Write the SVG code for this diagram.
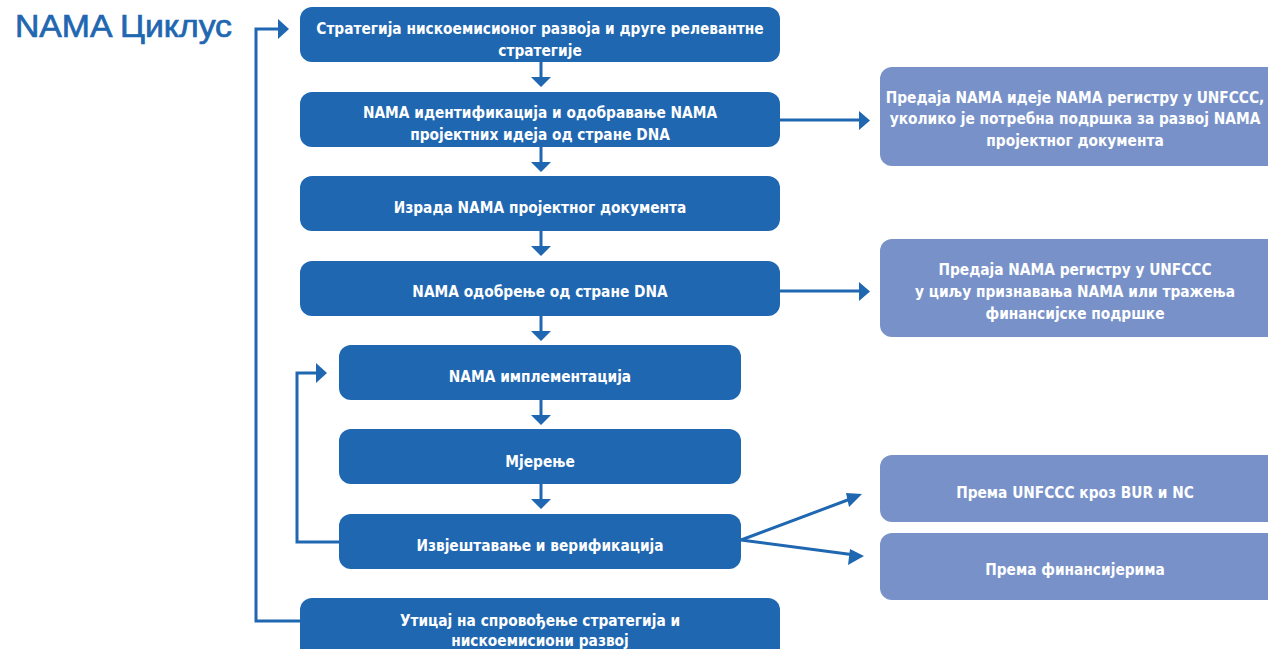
<svg xmlns="http://www.w3.org/2000/svg" width="1268" height="649" viewBox="0 0 1268 649">
<defs>
<style>
.b{fill:#1f67b1}
.l{fill:#7892c9}
.t{font-family:"Liberation Sans Narrow","DejaVu Sans Condensed","Liberation Sans",sans-serif;font-weight:bold;font-size:15.3px;fill:#fff;text-anchor:middle}
.c{stroke:#1f67b1;stroke-width:3;fill:none}
.h{fill:#1f67b1}
</style>
</defs>
<rect width="1268" height="649" fill="#fff"/>
<text x="15" y="37" font-family="Liberation Sans, Arial, sans-serif" font-size="31" textLength="217" lengthAdjust="spacingAndGlyphs" fill="#1f67b1" stroke="#1f67b1" stroke-width="0.7">NAMA Циклус</text>
<g id="connectors">
<path class="c" d="M541 62V78M541 147V162M541 231V247M541 316V331M541 400V415M541 484V499"/>
<path class="h" d="M531 77h20l-10 10zM531 162h20l-10 10zM531 246h20l-10 10zM531 331h20l-10 10zM531 415h20l-10 10zM531 499h20l-10 10z"/>
<path class="c" d="M780 120H860M780 291H860"/>
<path class="h" d="M859 111v19l11-9.5zM859 282v19l11-9.5z"/>
<path class="c" d="M300 621H256V29H280"/>
<path class="h" d="M278 19v20l11-10z"/>
<path class="c" d="M339 542H297V373H318"/>
<path class="h" d="M316 363v20l11-10z"/>
<path class="c" d="M741 540L853 498M741 540L855 555"/>
<path class="h" d="M862 494l-13 13-3-14zM864 556l-16 9 2-16z"/>
</g>
<g id="n1"><rect class="b" x="300" y="7" width="480" height="55" rx="12"/><text class="t" x="540" y="33.5">Стратегија нискоемисионог развоја и друге релевантне</text><text class="t" x="540" y="55.5">стратегије</text></g>
<g id="n2"><rect class="b" x="300" y="92" width="480" height="55" rx="12"/><text class="t" x="540" y="117.5">NAMA идентификација и одобравање NAMA</text><text class="t" x="540" y="139.5">пројектних идеја од стране DNA</text></g>
<g id="n3"><rect class="b" x="300" y="176" width="480" height="55" rx="12"/><text class="t" x="540" y="212.5">Израда NAMA пројектног документа</text></g>
<g id="n4"><rect class="b" x="300" y="261" width="480" height="55" rx="12"/><text class="t" x="540" y="297">NAMA одобрење од стране DNA</text></g>
<g id="n5"><rect class="b" x="339" y="345" width="402" height="55" rx="12"/><text class="t" x="540" y="382">NAMA имплементација</text></g>
<g id="n6"><rect class="b" x="339" y="429" width="402" height="55" rx="12"/><text class="t" x="540" y="467">Мјерење</text></g>
<g id="n7"><rect class="b" x="339" y="514" width="402" height="55" rx="12"/><text class="t" x="540" y="550.5">Извјештавање и верификација</text></g>
<g id="n8"><rect class="b" x="300" y="598" width="480" height="62" rx="12"/><text class="t" x="540" y="626">Утицај на спровођење стратегија и</text><text class="t" x="540" y="645.5">нискоемисиони развој</text></g>
<g id="r1"><rect class="l" x="880" y="67" width="400" height="99" rx="12"/><text class="t" x="1075" y="102.5">Предаја NAMA идеје NAMA регистру у UNFCCC,</text><text class="t" x="1075" y="124">уколико је потребна подршка за развој NAMA</text><text class="t" x="1075" y="145.5">пројектног документа</text></g>
<g id="r2"><rect class="l" x="880" y="239" width="400" height="98" rx="12"/><text class="t" x="1075" y="275">Предаја NAMA регистру у UNFCCC</text><text class="t" x="1075" y="297">у циљу признавања NAMA или тражења</text><text class="t" x="1075" y="319">финансијске подршке</text></g>
<g id="r3"><rect class="l" x="880" y="455" width="400" height="67" rx="12"/><text class="t" x="1075" y="497.5">Према UNFCCC кроз BUR и NC</text></g>
<g id="r4"><rect class="l" x="880" y="533" width="400" height="67" rx="12"/><text class="t" x="1075" y="575">Према финансијерима</text></g>
</svg>
